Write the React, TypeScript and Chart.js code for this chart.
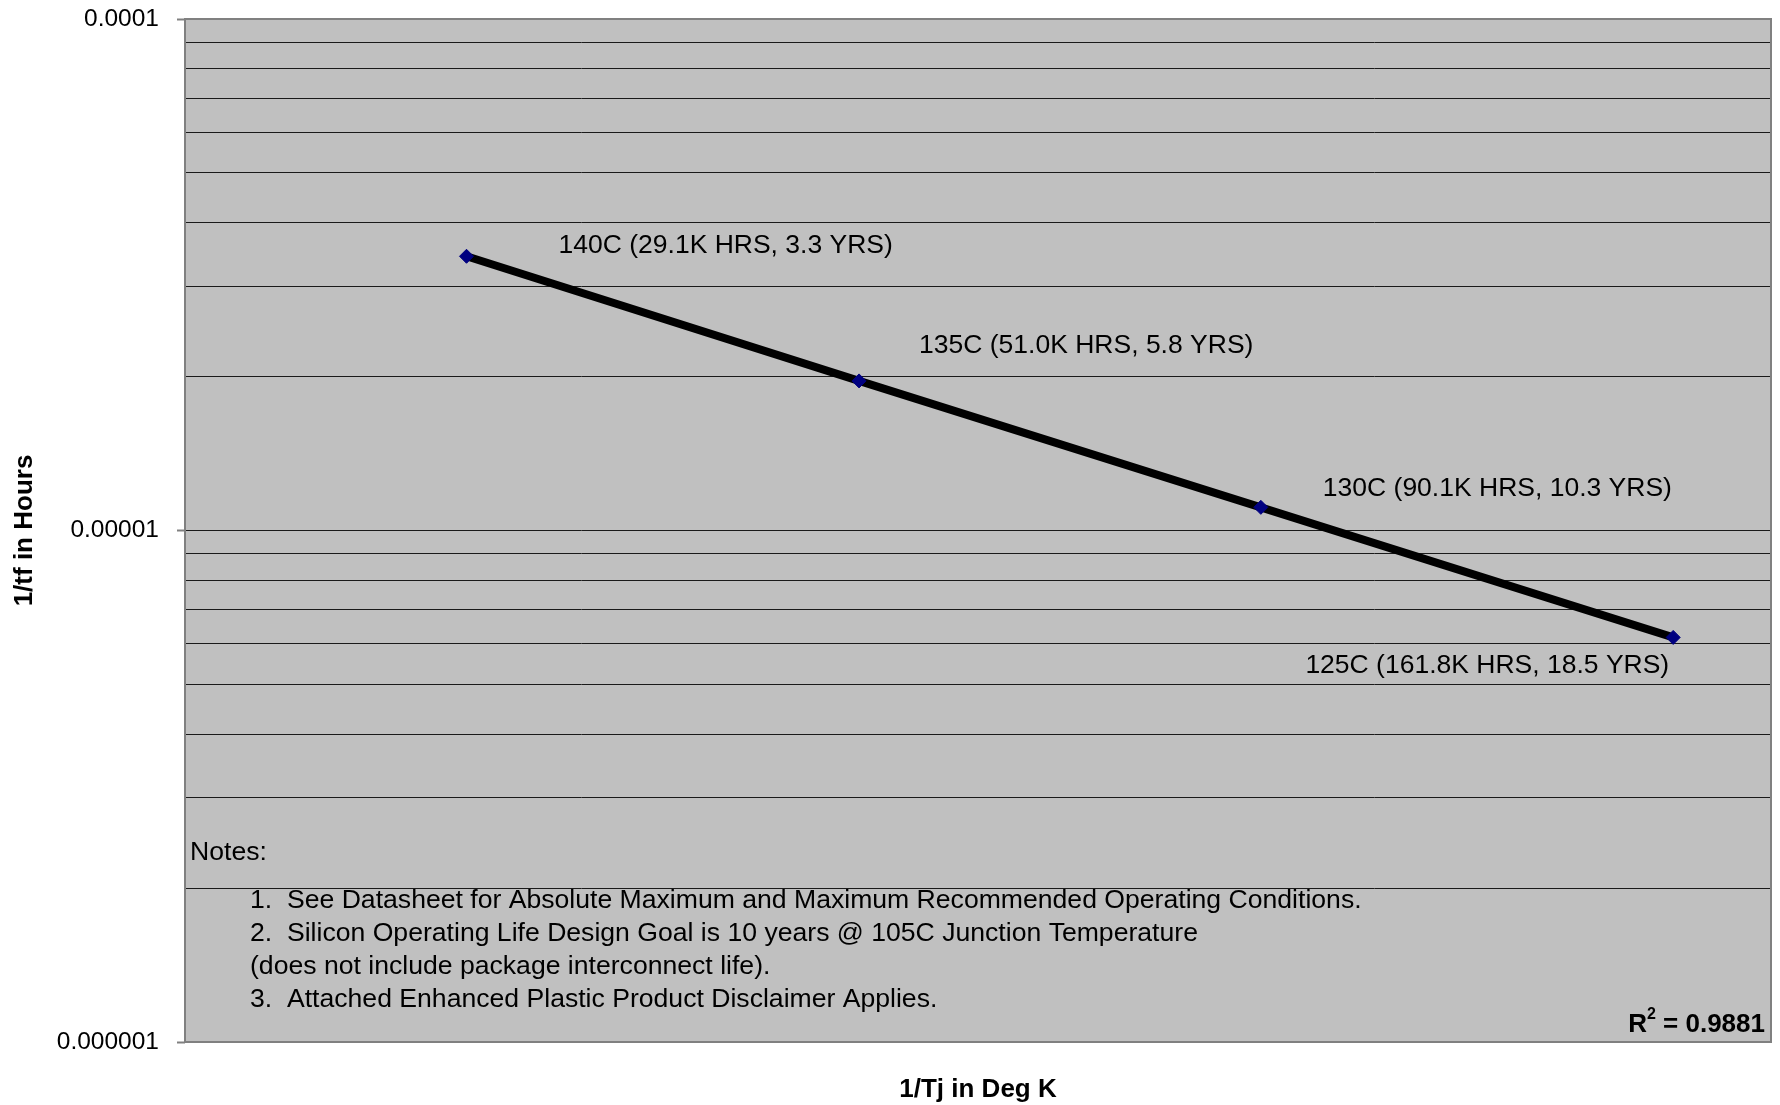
import React, { useEffect, useRef } from 'react';
import { Chart, registerables } from 'chart.js';

Chart.register(...registerables);

// ---------- data ----------
const temperatures = ['140C', '135C', '130C', '125C'];
const invTj = [0.0024213, 0.002451, 0.0024814, 0.0025126]; // 1/Tj (1/K)
const invTf = [3.4364e-5, 1.9608e-5, 1.1099e-5, 6.18e-6]; // 1/tf (1/hours)
const hoursK = ['29.1K', '51.0K', '90.1K', '161.8K'];
const years = ['3.3', '5.8', '10.3', '18.5'];

const xMin = 0.0024;
const xMax = 0.00252;
const yMin = 0.000001;
const yMax = 0.0001;

const yGridValues = [
  0.000001, 0.000002, 0.000003, 0.000004, 0.000005, 0.000006, 0.000007, 0.000008, 0.000009,
  0.00001, 0.00002, 0.00003, 0.00004, 0.00005, 0.00006, 0.00007, 0.00008, 0.00009,
  0.0001,
];
const yTickValues = [0.0001, 0.00001, 0.000001];
const yTickLabels = ['0.0001', '0.00001', '0.000001'];

const xTitle = '1/Tj in Deg K';
const yTitle = '1/tf in Hours';
const noteLines = [
  'Notes:',
  '1.  See Datasheet for Absolute Maximum and Maximum Recommended Operating Conditions.',
  '2.  Silicon Operating Life Design Goal is 10 years @ 105C Junction Temperature',
  '(does not include package interconnect life).',
  '3.  Attached Enhanced Plastic Product Disclaimer Applies.',
];
const rSquared = '0.9881';

// label placement (offsets from each point, px)
const labelOffsets: [number, number, CanvasTextAlign][] = [
  [92, -11, 'left'],
  [60, -35, 'left'],
  [62, -19, 'left'],
  [-4, 28, 'right'],
];

const FONT = '"Liberation Sans", Arial, Helvetica, sans-serif';

const decorPlugin = {
  id: 'decor',
  beforeDraw(chart: any) {
    const { ctx, chartArea: a } = chart;
    ctx.save();
    ctx.fillStyle = '#C0C0C0';
    ctx.fillRect(a.left, a.top, a.right - a.left, a.bottom - a.top);
    ctx.restore();
  },
  beforeDatasetsDraw(chart: any) {
    const { ctx, chartArea: a } = chart;
    ctx.save();
    ctx.strokeStyle = '#808080';
    ctx.lineWidth = 2;
    ctx.strokeRect(a.left, a.top, a.right - a.left, a.bottom - a.top);
    // notes
    ctx.fillStyle = '#000';
    ctx.font = `26.6px ${FONT}`;
    ctx.textBaseline = 'middle';
    ctx.textAlign = 'left';
    const noteX = [a.left + 5, a.left + 65, a.left + 65, a.left + 65, a.left + 65];
    const noteY = [a.top + 834, a.top + 882, a.top + 915, a.top + 948, a.top + 981];
    noteLines.forEach((t, i) => ctx.fillText(t, noteX[i], noteY[i]));
    // R^2
    ctx.font = `bold 26px ${FONT}`;
    ctx.textAlign = 'right';
    const rest = ` = ${rSquared}`;
    const restW = ctx.measureText(rest).width;
    const rx = a.right - 6;
    const ry = a.bottom - 17;
    ctx.fillText(rest, rx, ry);
    ctx.font = `bold 16px ${FONT}`;
    const supW = ctx.measureText('2').width;
    ctx.fillText('2', rx - restW, ry - 10);
    ctx.font = `bold 26px ${FONT}`;
    ctx.fillText('R', rx - restW - supW, ry);
    ctx.restore();
  },
  afterDatasetsDraw(chart: any) {
    const { ctx } = chart;
    const meta = chart.getDatasetMeta(0);
    ctx.save();
    ctx.fillStyle = '#000';
    ctx.font = `26.5px ${FONT}`;
    ctx.textBaseline = 'middle';
    meta.data.forEach((pt: any, i: number) => {
      const [dx, dy, align] = labelOffsets[i];
      ctx.textAlign = align;
      ctx.fillText(`${temperatures[i]} (${hoursK[i]} HRS, ${years[i]} YRS)`, pt.x + dx, pt.y + dy);
    });
    ctx.restore();
  },
};

const isTickValue = (v: number) => yTickValues.findIndex((t) => Math.abs(t - v) / t < 1e-6);

export default function App() {
  const ref = useRef<HTMLCanvasElement>(null);
  useEffect(() => {
    if (!ref.current) return;
    const chart = new Chart(ref.current, {
      type: 'line',
      data: {
        datasets: [
          {
            data: invTj.map((x, i) => ({ x, y: invTf[i] })),
            borderColor: '#000000',
            borderWidth: 8,
            pointStyle: 'rectRot',
            pointRadius: 7,
            pointBackgroundColor: '#000080',
            pointBorderColor: '#000080',
            pointBorderWidth: 1,
            tension: 0,
          },
        ],
      },
      options: {
        animation: false,
        responsive: false,
        devicePixelRatio: 1,
        layout: { padding: { top: 19, right: 9, left: 0, bottom: 0 } },
        plugins: { legend: { display: false }, tooltip: { enabled: false } },
        scales: {
          x: {
            type: 'linear',
            min: xMin,
            max: xMax,
            grid: { display: false, drawTicks: false },
            border: { display: false },
            ticks: { display: false },
            title: {
              display: true,
              text: xTitle,
              color: '#000',
              font: { family: FONT, size: 26, weight: 'bold' },
              padding: { top: 0, bottom: 0 },
            },
            afterFit: (s: any) => {
              s.height = 63;
              s.paddingLeft = 0;
              s.paddingRight = 0;
              s.paddingTop = 0;
              s.paddingBottom = 0;
            },
          },
          y: {
            type: 'logarithmic',
            min: yMin,
            max: yMax,
            afterBuildTicks: (s: any) => {
              s.ticks = yGridValues.map((v) => ({ value: v }));
            },
            ticks: {
              autoSkip: false,
              color: '#000',
              font: { family: FONT, size: 24.5 },
              padding: 18,
              callback: (v: any) => {
                const i = isTickValue(Number(v));
                return i >= 0 ? yTickLabels[i] : '';
              },
            },
            grid: {
              color: '#1a1a1a',
              lineWidth: 1,
              tickLength: 8,
              tickColor: (c: any) => (c.tick && isTickValue(c.tick.value) >= 0 ? '#808080' : 'rgba(0,0,0,0)'),
              tickWidth: 2,
            },
            border: { display: false },
            title: {
              display: true,
              text: yTitle,
              color: '#000',
              font: { family: FONT, size: 26, weight: 'bold' },
              padding: { top: 9, bottom: 0 },
            },
            afterFit: (s: any) => {
              s.width = 185;
              s.paddingLeft = 0;
              s.paddingRight = 0;
              s.paddingTop = 0;
              s.paddingBottom = 0;
            },
          },
        },
      },
      plugins: [decorPlugin],
    });
    return () => chart.destroy();
  }, []);
  return (
    <div style={{ position: 'absolute', left: 0, top: 0, width: 1780, height: 1105, background: '#fff' }}>
      <canvas ref={ref} width={1780} height={1105} />
    </div>
  );
}
